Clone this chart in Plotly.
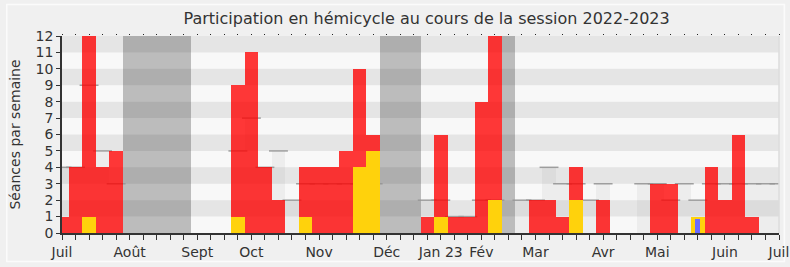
import plotly.graph_objects as go

# ---- data (one value per parliamentary week, week 0 = start of July 2022) ----
weeks = list(range(54))
presence = [1, 4, 12, 4, 5, 0, 0, 0, 0, 0,
            0, 0, 0, 9, 11, 4, 2, 0, 4, 4,
            4, 5, 10, 6, 0, 0, 0, 1, 6, 1,
            1, 8, 12, 0, 0, 2, 2, 1, 4, 0,
            2, 0, 0, 0, 3, 3, 0, 0, 4, 2,
            6, 1, 0, 0]
interventions = [0, 0, 1, 0, 0, 0, 0, 0, 0, 0,
                 0, 0, 0, 1, 0, 0, 0, 0, 1, 0,
                 0, 0, 4, 5, 0, 0, 0, 0, 1, 0,
                 0, 0, 2, 0, 0, 0, 0, 0, 2, 0,
                 0, 0, 0, 0, 0, 0, 0, 1, 0, 0,
                 0, 0, 0, 0]
questions = [0] * 47 + [0.85] + [0] * 6
median = [4, 4, 9, 5, 3, 0, 0, 0, 0, 0,
          0, 0, 0, 5, 7, 4, 5, 2, 3, 3,
          3, 3, 3, 3, 0, 0, 0, 2, 2, 1,
          1, 2, 2, 0, 2, 2, 4, 3, 3, 2,
          3, 0, 0, 3, 3, 2, 3, 2, 3, 3,
          3, 3, 3, 3]
vacation_weeks = [5, 6, 7, 8, 9, 24, 25, 26, 33]
vacation_height = 12
tick_weeks = [0, 5, 10, 14, 19, 24, 28, 31, 35, 40, 44, 49, 53]
tick_labels = ["Juil", "Août", "Sept", "Oct", "Nov", "Déc", "Jan 23", "Fév",
               "Mar", "Avr", "Mai", "Juin", "Juil"]
y_max = 12

FONT = "DejaVu Sans"
TXT = "#333333"

fig = go.Figure()

# ---- base layer (x / y): vacations and median of all deputies ----
fig.add_trace(go.Bar(x=vacation_weeks, y=[vacation_height] * len(vacation_weeks), width=1,
                     marker=dict(color="rgba(0,0,0,0.24)", line=dict(width=0)),
                     hoverinfo="skip", showlegend=False))
fig.add_trace(go.Bar(x=weeks, y=median, width=1,
                     marker=dict(color="rgba(160,160,160,0.13)", line=dict(width=0)),
                     hoverinfo="skip", showlegend=False))
med_x = [w for w, m in zip(weeks, median) if m > 0]
med_y = [m for m in median if m > 0]
fig.add_trace(go.Scatter(x=med_x, y=med_y, mode="markers",
                         marker=dict(symbol="line-ew", size=13.5,
                                     line=dict(color="rgba(150,150,150,0.9)", width=1.5)),
                         hoverinfo="skip", showlegend=False))

# ---- overlay layer (x2 / y): the deputy's own activity ----
fig.add_trace(go.Bar(x=weeks, y=presence, width=1, xaxis="x2",
                     marker=dict(color="rgba(255,0,0,0.78)", line=dict(width=0)),
                     showlegend=False))
fig.add_trace(go.Bar(x=weeks, y=interventions, width=1, xaxis="x2",
                     marker=dict(color="#ffd20c", line=dict(width=0)),
                     showlegend=False))
fig.add_trace(go.Bar(x=weeks, y=questions, width=0.35, xaxis="x2",
                     marker=dict(color="#6b6bff", line=dict(width=0)),
                     showlegend=False))

# alternating horizontal bands
shapes = []
for k in range(1, y_max, 2):
    shapes.append(dict(type="rect", xref="paper", yref="y", x0=0, x1=1, y0=k, y1=k + 1,
                       fillcolor="#e5e5e5", line=dict(width=0), layer="below"))
# outer frame
shapes.append(dict(type="rect", xref="paper", yref="paper",
                   x0=-0.077, x1=1.0075, y0=-0.145, y1=1.16,
                   line=dict(color="#fbfbfb", width=1.5), layer="below"))
# right edge line of plot area
shapes.append(dict(type="line", xref="paper", yref="paper", x0=1, x1=1, y0=0, y1=1,
                   line=dict(color="#dcdcdc", width=1.5), layer="above"))

fig.update_layout(
    width=790, height=267,
    margin=dict(l=62, r=11, t=36, b=34, autoexpand=False),
    paper_bgcolor="#f0f0f0", plot_bgcolor="#f8f8f8",
    barmode="overlay", bargap=0,
    font=dict(family=FONT, color=TXT, size=13),
    title=dict(text="Participation en hémicycle au cours de la session 2022-2023",
               x=0.54, xanchor="center", y=0.93, yanchor="middle",
               font=dict(size=16, color=TXT, family=FONT)),
    shapes=shapes,
    xaxis=dict(range=[0, 53], tickmode="array", tickvals=weeks,
               ticktext=[tick_labels[tick_weeks.index(w)] if w in tick_weeks else "" for w in weeks],
               ticks="outside", ticklen=5, tickwidth=1, tickcolor="#333",
               showline=True, linecolor="#333", linewidth=1.5, automargin=False,
               showgrid=False, zeroline=False, tickfont=dict(size=14, color=TXT)),
    xaxis2=dict(range=[0, 53], overlaying="x", side="top", tickmode="array",
                tickvals=weeks, showticklabels=False, ticks="outside", ticklen=1.5,
                tickwidth=1.2, tickcolor="#222", showline=False, showgrid=False,
                zeroline=False, automargin=False),
    yaxis=dict(range=[0, y_max], tickmode="array", tickvals=list(range(0, y_max + 1)),
               ticks="outside", ticklen=4, tickcolor="#333",
               showline=True, linecolor="#333", linewidth=1.5, automargin=False,
               showgrid=False, zeroline=False, tickfont=dict(size=14, color=TXT),
               title=dict(text="Séances par semaine", font=dict(size=14, color=TXT),
                          standoff=12)),
)

fig.write_html("out.html")
